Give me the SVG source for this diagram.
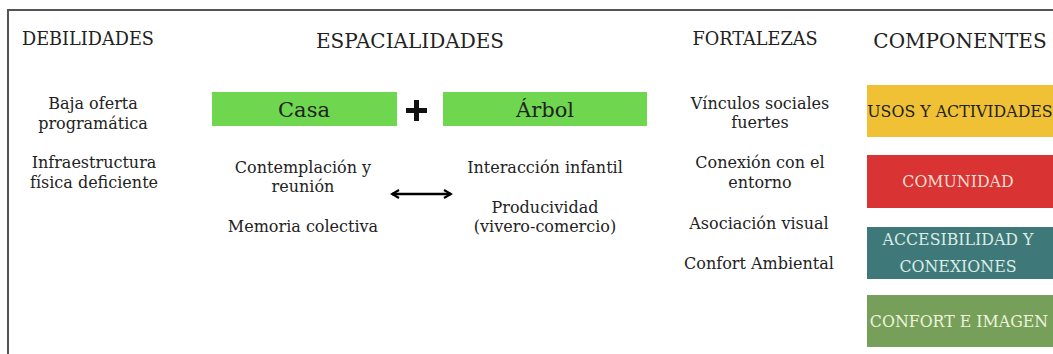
<svg xmlns="http://www.w3.org/2000/svg" width="1053" height="354" viewBox="0 0 1053 354">
<style>
text{font-family:"DejaVu Serif","Liberation Serif",serif;text-anchor:middle;fill:#222}
.h{font-size:17.7px}
.hb{font-size:20px}
.t{font-size:16px}
.g{fill:#6fd650}
.lbl{font-size:21px}
.c{font-size:15.8px}
</style>
<defs>
<marker id="ah" viewBox="0 0 10 10" refX="8" refY="5" markerWidth="4" markerHeight="4" orient="auto-start-reverse">
<path d="M1,1 L8,5 L1,9" fill="none" stroke="#000" stroke-width="2.2"/>
</marker>
</defs>
<rect width="1053" height="354" fill="#fff"/>
<path d="M8,356 V10 H1053" fill="none" stroke="#555" stroke-width="2"/>
<g id="headers">
<text class="h" x="88" y="45">DEBILIDADES</text>
<text class="hb" x="410" y="48">ESPACIALIDADES</text>
<text class="h" x="755" y="45">FORTALEZAS</text>
<text class="hb" x="960" y="48">COMPONENTES</text>
</g>
<g id="debilidades">
<text class="t" x="93" y="109">Baja oferta</text>
<text class="t" x="93" y="129">programática</text>
<text class="t" x="94" y="168">Infraestructura</text>
<text class="t" x="94" y="188">física deficiente</text>
</g>
<g id="casa">
<rect class="g" x="212" y="92" width="185" height="34"/>
<text class="lbl" x="304" y="117">Casa</text>
</g>
<g id="plus">
<path d="M416.5,100 V121 M406,110.5 H427" stroke="#111" stroke-width="5"/>
</g>
<g id="arbol">
<rect class="g" x="443" y="92" width="204" height="34"/>
<text class="lbl" x="545" y="117">Árbol</text>
</g>
<g id="casa-items">
<text class="t" x="303" y="173">Contemplación y</text>
<text class="t" x="303" y="192">reunión</text>
<text class="t" x="303" y="232">Memoria colectiva</text>
</g>
<g id="arbol-items">
<text class="t" x="545" y="173">Interacción infantil</text>
<text class="t" x="545" y="213">Producividad</text>
<text class="t" x="545" y="232">(vivero-comercio)</text>
</g>
<g id="fortalezas">
<text class="t" x="760" y="109">Vínculos sociales</text>
<text class="t" x="760" y="128">fuertes</text>
<text class="t" x="760" y="168">Conexión con el</text>
<text class="t" x="760" y="188">entorno</text>
<text class="t" x="759" y="229">Asociación visual</text>
<text class="t" x="759" y="269">Confort Ambiental</text>
</g>
<g id="connectors">
<line x1="392" y1="194" x2="451" y2="194" stroke="#000" stroke-width="2.5" marker-start="url(#ah)" marker-end="url(#ah)"/>
</g>
<g id="usos">
<rect x="867" y="85" width="190" height="52" fill="#f0c135"/>
<text class="c" x="960" y="117" fill="#222">USOS Y ACTIVIDADES</text>
</g>
<g id="comunidad">
<rect x="867" y="155" width="190" height="53" fill="#d93333"/>
<text class="c" x="958" y="187" style="fill:#f6ddd2">COMUNIDAD</text>
</g>
<g id="accesibilidad">
<rect x="867" y="227" width="190" height="52" fill="#3f7878"/>
<text class="c" x="958" y="245" style="fill:#d9ece6">ACCESIBILIDAD Y</text>
<text class="c" x="958" y="272" style="fill:#d9ece6">CONEXIONES</text>
</g>
<g id="confort">
<rect x="867" y="295" width="190" height="52" fill="#76a05a"/>
<text class="c" x="959" y="327" style="fill:#eef2dc">CONFORT E IMAGEN</text>
</g>
</svg>
